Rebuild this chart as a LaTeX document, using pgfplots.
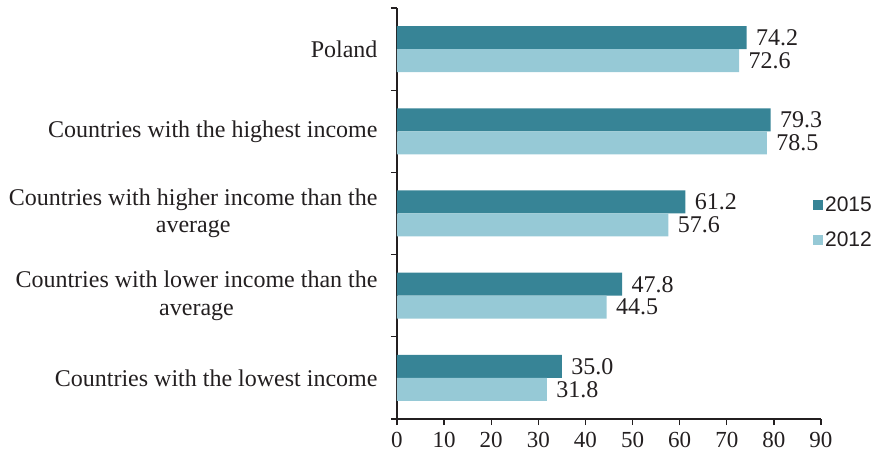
\documentclass[border=0pt]{standalone}
\usepackage{pgfplots}
\pgfplotsset{compat=1.18}
\usepackage{fontspec}
\setmainfont{Liberation Serif}
\newfontfamily\legfont{Liberation Sans}
\definecolor{c2015}{RGB}{55,132,150}
\definecolor{c2012}{RGB}{150,201,214}
\definecolor{axcol}{RGB}{35,31,32}
\pgfplotsset{sqlegend/.style={legend image code/.code={\fill[##1] (0pt,-5pt) rectangle (10pt,5pt);}}}
\begin{document}
\begin{tikzpicture}
\begin{axis}[name=ax, scale only axis, width=424pt, height=411pt,
  xbar, bar width=23pt,
  xmin=0, xmax=90, ymin=-0.5, ymax=4.5,
  axis lines*=left,
  axis line style={axcol, line width=1.3pt},
  tick align=outside, major tick length=6pt,
  tick style={axcol, line width=1.3pt},
  xtick={0,10,...,90},
  xticklabel style={font=\fontsize{23}{26}\selectfont, text=axcol, yshift=-4pt},
  /pgf/number format/assume math mode=true,
  ytick={-0.5,0.5,...,4.5}, yticklabels={},
  extra y ticks={0,1,2,3,4},
  extra y tick labels={{Countries with the lowest income},{Countries with lower income than the\\average},{Countries with higher income than the\\average},{Countries with the highest income},{Poland}},
  extra y tick style={major tick length=0pt},
  yticklabel style={font=\fontsize{24}{27.5}\selectfont, align=center, text=axcol, xshift=-16pt},
  nodes near coords,
  nodes near coords style={font=\fontsize{24}{27}\selectfont, text=axcol, xshift=6pt, /pgf/number format/.cd, fixed, fixed zerofill, precision=1, assume math mode=true},
  legend style={draw=none, fill=none, at={(0.981,0.478)}, anchor=west, font=\legfont\fontsize{21}{24}\selectfont, text=axcol, row sep=15pt, inner sep=0pt},
  legend cell align=left,
  clip=false,
]
\addplot[sqlegend, fill=c2015, draw=none, bar shift=11.5pt] coordinates {(35.0,0) (47.8,1) (61.2,2) (79.3,3) (74.2,4)};
\addlegendentry{2015}
\addplot[sqlegend, fill=c2012, draw=none, bar shift=-11.5pt] coordinates {(31.8,0) (44.5,1) (57.6,2) (78.5,3) (72.6,4)};
\addlegendentry{2012}
\end{axis}
\pgfresetboundingbox
\path ([xshift=-397pt,yshift=-40pt]ax.south west) rectangle ([xshift=57pt,yshift=8pt]ax.north east);
\end{tikzpicture}
\end{document}
